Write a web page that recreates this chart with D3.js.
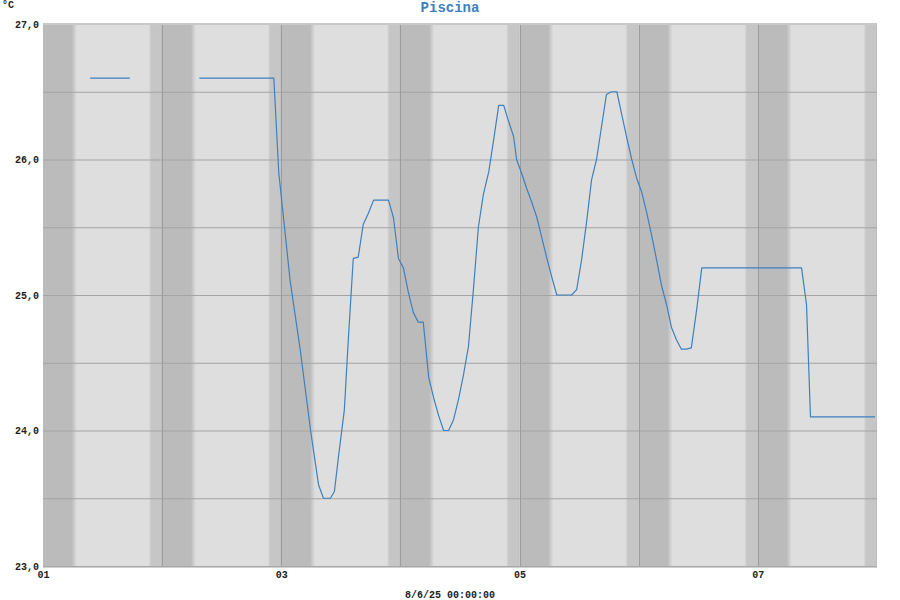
<!DOCTYPE html>
<html><head><meta charset="utf-8">
<script src="https://cdn.jsdelivr.net/npm/d3@7"></script>
<style>
html,body{margin:0;padding:0;background:#fff;}
svg text{font-family:"Liberation Mono","DejaVu Sans Mono",monospace;font-weight:bold;}
</style></head>
<body><svg id="c" width="900" height="600"></svg>
<script>
// ---- data ----
const title = "Piscina";
const unitLabel = "°C";
const footerLabel = "8/6/25 00:00:00";
// hours since 2025-06-01 00:00, null temp = gap
const hours = [9.5,17.5,18,31.5,46.5,47.5,49.8,51.8,53.9,55.5,56.5,57.9,58.7,59.5,60.7,61.5,62.5,63.5,64.5,65.5,66.6,69.6,70.6,71.6,72.6,73.6,74.6,75.6,76.6,77.7,78.7,79.7,80.7,81.7,82.7,83.7,84.7,85.7,86.7,87.7,88.7,89.8,90.8,91.8,92.8,93.8,94.8,95.4,96.4,97.4,98.4,99.5,100.5,101.5,102.5,103.5,106.5,107.5,108.5,109.5,110.5,111.5,112.5,113.5,114.5,115.6,116.6,117.6,118.6,119.6,120.6,121.6,122.6,123.6,124.6,125.6,126.6,127.6,128.6,129.6,130.6,131.7,132.7,152.8,153.8,154.6,167.6];
const temps = [26.6,26.6,null,26.6,26.6,25.9,25.1,24.6,24.0,23.6,23.5,23.5,23.55,23.8,24.15,24.67,25.27,25.28,25.52,25.6,25.7,25.7,25.57,25.27,25.2,25.02,24.87,24.8,24.8,24.39,24.24,24.11,24.0,24.0,24.08,24.23,24.41,24.62,25.04,25.5,25.74,25.91,26.15,26.4,26.4,26.28,26.17,26.0,25.9,25.79,25.69,25.57,25.42,25.27,25.13,25.0,25.0,25.04,25.26,25.54,25.85,26.0,26.24,26.48,26.5,26.5,26.33,26.16,26.0,25.86,25.76,25.61,25.44,25.26,25.07,24.93,24.76,24.67,24.6,24.6,24.61,24.9,25.2,25.2,24.93,24.1,24.1];
const yTickValues = [23,24,25,26,27];
const yGridValues = [23.5,24,24.5,25,25.5,26,26.5];
const xTickLabels = ["01","03","05","07"];
// day/night shading profile over 24h (hour -> shade)
const shadeHours  = [0, 5.8, 6.8, 21.3, 21.8, 23.7, 24];
const shadeColors = ["#bbbbbb","#bbbbbb","#dedede","#dedede","#c6c6c6","#c6c6c6","#bbbbbb"];

const start = Date.UTC(2025,5,1);
const end = Date.UTC(2025,5,8);
const data = hours.map((h,i)=>({t:new Date(start+h*3600e3), v:temps[i]}));

const svg = d3.select("#c");
const m = {l:43, r:877, t:24, b:566};
const x = d3.scaleUtc().domain([new Date(start), new Date(end)]).range([m.l, m.r]);
const y = d3.scaleLinear().domain([23,27]).range([m.b, m.t]);

// gradient
const defs = svg.append("defs");
const g = defs.append("linearGradient").attr("id","daynight").attr("x1","0").attr("x2","1").attr("y1","0").attr("y2","0");
shadeHours.forEach((h,i)=>g.append("stop").attr("offset",h/24).attr("stop-color",shadeColors[i]));

const days = d3.utcDay.range(new Date(start), new Date(end));
svg.append("g").selectAll("rect").data(days).join("rect")
  .attr("x", d=>x(d)).attr("width", d=>x(d3.utcDay.offset(d,1))-x(d))
  .attr("y", m.t).attr("height", m.b-m.t).attr("fill","url(#daynight)");

// grid
svg.append("g").selectAll("line").data(yGridValues).join("line")
  .attr("x1",m.l).attr("x2",m.r).attr("y1",d=>y(d)+0.5).attr("y2",d=>y(d)+0.5)
  .attr("stroke","#a4a4a4").attr("stroke-width",1);
svg.append("g").selectAll("line").data(days.slice(1)).join("line")
  .attr("x1",d=>Math.round(x(d))+0.5).attr("x2",d=>Math.round(x(d))+0.5).attr("y1",m.t).attr("y2",m.b)
  .attr("stroke","#9c9c9c").attr("stroke-width",1);

// frame
svg.append("line").attr("x1",m.l).attr("x2",m.r).attr("y1",m.t).attr("y2",m.t).attr("stroke","#c8c8c8").attr("stroke-width",2);
svg.append("line").attr("x1",m.l).attr("x2",m.r).attr("y1",m.b+0.5).attr("y2",m.b+0.5).attr("stroke","#a8a8a8").attr("stroke-width",1);
svg.append("line").attr("x1",m.l).attr("x2",m.r).attr("y1",m.b+1.5).attr("y2",m.b+1.5).attr("stroke","#d0d0d0").attr("stroke-width",1);

// line
const line = d3.line().defined(d=>d.v!==null).x(d=>x(d.t)).y(d=>y(d.v));
svg.append("path").datum(data).attr("d",line).attr("fill","none")
  .attr("stroke","#3d80c0").attr("stroke-width",1.2).attr("stroke-linejoin","round");

// y axis labels
const fmt = d=>d3.format(".1f")(d).replace(".",",");
const yAxis = d3.axisLeft(y).tickValues(yTickValues).tickFormat(fmt).tickSize(0).tickPadding(4);
const ya = svg.append("g").attr("transform",`translate(${m.l},0)`).call(yAxis);
ya.select(".domain").remove();
ya.selectAll("text").attr("font-size",10).attr("fill","#222").style("font-family","'Liberation Mono',monospace").style("font-weight","bold");

// x axis labels
const xTicks = d3.utcDay.every(2).range(new Date(start), new Date(end));
const xAxis = d3.axisBottom(x).tickValues(xTicks).tickFormat((d,i)=>xTickLabels[i]).tickSize(0).tickPadding(5);
const xa = svg.append("g").attr("transform",`translate(0,${m.b})`).call(xAxis);
xa.select(".domain").remove();
xa.selectAll("text").attr("font-size",10).attr("fill","#222").style("font-family","'Liberation Mono',monospace").style("font-weight","bold");

// texts
svg.append("text").attr("x",450).attr("y",8).attr("text-anchor","middle").attr("dominant-baseline","middle")
  .attr("font-size",14).attr("fill","#3d80c0").text(title);
svg.append("text").attr("x",2).attr("y",5).attr("dominant-baseline","middle").attr("font-size",10).attr("fill","#222").text(unitLabel);
svg.append("text").attr("x",450).attr("y",595).attr("text-anchor","middle").attr("dominant-baseline","middle")
  .attr("font-size",10).attr("fill","#222").text(footerLabel);
</script></body></html>
